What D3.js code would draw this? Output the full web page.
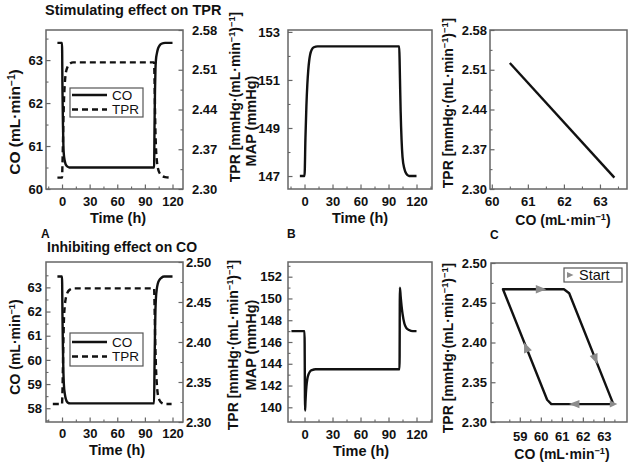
<!DOCTYPE html>
<html><head><meta charset="utf-8">
<script src="https://cdn.jsdelivr.net/npm/d3@7"></script>
<style>
body{margin:0;background:#fff;}
svg{display:block;}
</style></head><body><svg id="c" width="629" height="464"></svg>
<script>
// ---------- DATA ----------
// A: Stimulating effect on TPR
const stimTimeCO = [-5, 0, 0.5, 1, 1.5, 2, 3, 4, 6, 8, 12, 100, 100.5, 101, 101.5, 102, 103, 104, 106, 108, 112, 120];
const stimCO     = [63.4, 63.4, 62.3, 61.5, 61.0, 60.8, 60.65, 60.57, 60.52, 60.5, 60.5, 60.5, 61.5, 62.3, 62.8, 63.0, 63.15, 63.25, 63.34, 63.38, 63.4, 63.4];
const stimTimeTPR = [-5, 0, 0.5, 1, 1.5, 2, 3, 4, 6, 8, 12, 100, 100.5, 101, 101.5, 102, 103, 104, 106, 108, 112, 118];
const stimTPR     = [2.32, 2.32, 2.345, 2.38, 2.42, 2.45, 2.485, 2.503, 2.515, 2.52, 2.523, 2.523, 2.49, 2.44, 2.40, 2.375, 2.35, 2.338, 2.328, 2.324, 2.321, 2.32];
const stimTimeMAP = [-5, 0, 1, 2, 3, 4, 5, 6, 8, 10, 14, 101.5, 102, 102.5, 103, 104, 105, 107, 109, 112, 120];
const stimMAP     = [147, 147, 148.6, 149.9, 150.8, 151.4, 151.8, 152.05, 152.28, 152.36, 152.4, 152.4, 151.6, 150.6, 149.7, 148.5, 147.8, 147.3, 147.1, 147.0, 147.0];
const stimPhaseCO  = [60.5, 63.4];
const stimPhaseTPR = [2.522, 2.32];

// B: Inhibiting effect on CO
const inhTimeCO = [-5, 0, 0.5, 1, 1.5, 2, 3, 4, 6, 9, 100, 100.5, 101, 101.5, 102, 103, 104, 106, 108, 111, 120];
const inhCO     = [63.45, 63.45, 61.8, 60.4, 59.5, 59.0, 58.6, 58.4, 58.24, 58.2, 58.2, 59.8, 61.2, 62.1, 62.55, 62.95, 63.15, 63.32, 63.4, 63.45, 63.45];
const inhTimeTPR = [-10, 0, 0.5, 1, 1.5, 2, 3, 4, 5, 6, 8, 12, 100, 100.5, 101, 101.5, 102, 103, 104, 106, 108, 112, 119];
const inhTPR     = [2.3225, 2.3225, 2.34, 2.37, 2.40, 2.425, 2.445, 2.454, 2.459, 2.462, 2.465, 2.467, 2.467, 2.445, 2.415, 2.39, 2.37, 2.347, 2.335, 2.327, 2.324, 2.3225, 2.3225];
const inhTimeMAP = [-14, 0, 0.6, 1, 1.5, 2, 3, 4, 6, 8, 12, 101.8, 102.2, 103, 104, 105, 107, 109, 112, 116, 120];
const inhMAP     = [147, 147, 139.7, 140.5, 141.3, 141.9, 142.6, 142.95, 143.3, 143.42, 143.5, 143.5, 151.0, 150.2, 149.3, 148.6, 147.7, 147.3, 147.1, 147.0, 147.0];
const inhPhaseCO  = [63.45, 60.5, 60.3, 58.2, 61.1, 61.35, 63.45];
const inhPhaseTPR = [2.3225, 2.3225, 2.328, 2.467, 2.467, 2.462, 2.3225];
const arrowCO  = [61.6, 59.3, 60.0, 62.6];
const arrowTPR = [2.3225, 2.394, 2.467, 2.379];
const startCO  = [63.45];
const startTPR = [2.3225];

// ticks / labels
const timeTicks = [0, 30, 60, 90, 120];
const timeMinor = [-15, 15, 45, 75, 105, 135];
const coTicksA  = [60, 61, 62, 63];
const tprTicksA = [2.30, 2.37, 2.44, 2.51, 2.58];
const mapTicksA = [147, 149, 151, 153];
const coTicksC  = [60, 61, 62, 63];
const coTicksD  = [58, 59, 60, 61, 62, 63];
const tprTicksD = [2.30, 2.35, 2.40, 2.45, 2.50];
const mapTicksE = [140, 142, 144, 146, 148, 150, 152];
const coTicksF  = [59, 60, 61, 62, 63];
const titles = ["Stimulating effect on TPR", "Inhibiting effect on CO"];
const panelLetters = ["A", "B", "C"];
const legendNames = ["CO", "TPR"];
const startName = "Start";

// ---------- DRAW ----------
const FONT = '"Liberation Sans", Arial, Helvetica, sans-serif';
const svg = d3.select("#c").attr("font-family", FONT);
const FRAME = "#666";

function frame(p) {
  svg.append("rect").attr("x", p.x0).attr("y", p.y0)
    .attr("width", p.x1 - p.x0).attr("height", p.y1 - p.y0)
    .attr("fill", "none").attr("stroke", FRAME).attr("stroke-width", 1.5);
}
function halfSteps(ticks, domain) {
  const step = ticks[1] - ticks[0];
  const out = [];
  for (let i = -1; i < ticks.length; i++) {
    const v = ticks[0] + (i + 0.5) * step;
    if (v >= Math.min(...domain) && v <= Math.max(...domain)) out.push(v);
  }
  return out;
}
function drawAxis(kind, scale, pos, majors, minors, fmt, pad) {
  const mk = {left: d3.axisLeft, right: d3.axisRight, bottom: d3.axisBottom}[kind];
  const tr = kind === "bottom" ? `translate(0,${pos})` : `translate(${pos},0)`;
  const gm = svg.append("g").attr("transform", tr)
    .call(mk(scale).tickValues(minors).tickFormat("").tickSizeInner(-2.5).tickSizeOuter(0));
  gm.select(".domain").remove();
  gm.selectAll("line").attr("stroke", FRAME).attr("stroke-width", 1.1);
  const g = svg.append("g").attr("transform", tr)
    .call(mk(scale).tickValues(majors).tickFormat(fmt).tickSizeInner(-4.5).tickSizeOuter(0).tickPadding(pad));
  g.select(".domain").remove();
  g.selectAll("line").attr("stroke", FRAME).attr("stroke-width", 1.2);
  g.attr("font-family", FONT).attr("font-size", 13).attr("font-weight", "bold");
  g.selectAll("text").attr("fill", "#111");
}
function label(x, y, parts, size, rotate) {
  const t = svg.append("text")
    .attr("transform", `translate(${x},${y})` + (rotate ? " rotate(-90)" : ""))
    .attr("text-anchor", "middle").attr("font-weight", "bold")
    .attr("font-size", size).attr("fill", "#111");
  let prevSup = false;
  parts.forEach(([s, sup]) => {
    const dy = sup && !prevSup ? -0.34 * size : (!sup && prevSup ? 0.34 * size : 0);
    t.append("tspan").attr("dy", dy).attr("font-size", sup ? size * 0.66 : size).text(s);
    prevSup = sup;
  });
}
const coLab  = [["CO (mL·min", false], ["−1", true], [")", false]];
const tprLab = [["TPR [mmHg·(mL·min", false], ["−1", true], [")", false], ["−1", true], ["]", false]];
const mapLab = [["MAP (mmHg)", false]];
const timeLab = [["Time (h)", false]];

function series(xs, ys, xScale, yScale, dashed) {
  const pts = xs.map((x, i) => [x, ys[i]]);
  svg.append("path").datum(pts)
    .attr("d", d3.line().x(d => xScale(d[0])).y(d => yScale(d[1])).curve(d3.curveMonotoneX))
    .attr("fill", "none").attr("stroke", "#111").attr("stroke-width", 2.4)
    .attr("stroke-dasharray", dashed ? "6,4" : null);
}
function legend(x, y, w, h, rows) {
  svg.append("rect").attr("x", x).attr("y", y).attr("width", w).attr("height", h)
    .attr("fill", "#fff").attr("stroke", "#555").attr("stroke-width", 1.2);
  legendNames.forEach((n, i) => {
    const ly = y + rows[i];
    svg.append("line").attr("x1", x + 2).attr("x2", x + 37).attr("y1", ly).attr("y2", ly)
      .attr("stroke", "#111").attr("stroke-width", 2.4).attr("stroke-dasharray", i ? "6,4" : null);
    svg.append("text").attr("x", x + 42).attr("y", ly).attr("dy", "0.36em")
      .attr("font-size", 13.5).attr("fill", "#111").text(n);
  });
}

// Panel geometry
const P1 = {x0: 46, x1: 183, y0: 30, y1: 189};
const P2 = {x0: 288, x1: 432, y0: 30, y1: 189};
const P3 = {x0: 490, x1: 627, y0: 30, y1: 189};
const P4 = {x0: 46, x1: 183, y0: 262, y1: 422};
const P5 = {x0: 288, x1: 432, y0: 262, y1: 422};
const P6 = {x0: 491, x1: 627, y0: 263, y1: 422};

// ---- Panel A (top-left)
{
  const x = d3.scaleLinear().domain([-17.4, 131.4]).range([P1.x0, P1.x1]);
  const yL = d3.scaleLinear().domain([60, 63.7]).range([P1.y1, P1.y0]);
  const yR = d3.scaleLinear().domain([2.30, 2.58]).range([P1.y1, P1.y0]);
  drawAxis("left", yL, P1.x0, coTicksA, halfSteps(coTicksA, yL.domain()), d3.format("d"), 3);
  drawAxis("right", yR, P1.x1, tprTicksA, halfSteps(tprTicksA, yR.domain()), d3.format(".2f"), 9);
  drawAxis("bottom", x, P1.y1, timeTicks, timeMinor.filter(v => v >= x.domain()[0] && v <= x.domain()[1]), d3.format("d"), 8);
  series(stimTimeCO, stimCO, x, yL, false);
  series(stimTimeTPR, stimTPR, x, yR, true);
  frame(P1);
  legend(70, 88, 73, 29, [7, 21.5]);
  label(20, 122, coLab, 15.5, true);
  label(240, 97, tprLab, 14, true);
  label(118, 223, timeLab, 14.5, false);
}
// ---- Panel B (top-middle)
{
  const x = d3.scaleLinear().domain([-17.7, 136.6]).range([P2.x0, P2.x1]);
  const y = d3.scaleLinear().domain([146.46, 153.08]).range([P2.y1, P2.y0]);
  drawAxis("left", y, P2.x0, mapTicksA, [148, 150, 152], d3.format("d"), 8);
  drawAxis("bottom", x, P2.y1, timeTicks, timeMinor.filter(v => v >= x.domain()[0] && v <= x.domain()[1]), d3.format("d"), 8);
  series(stimTimeMAP, stimMAP, x, y, false);
  frame(P2);
  label(256, 121, mapLab, 14.5, true);
  label(360, 223, timeLab, 14.5, false);
}
// ---- Panel C (top-right)
{
  const x = d3.scaleLinear().domain([59.95, 63.75]).range([P3.x0, P3.x1]);
  const y = d3.scaleLinear().domain([2.30, 2.58]).range([P3.y1, P3.y0]);
  drawAxis("left", y, P3.x0, tprTicksA, halfSteps(tprTicksA, y.domain()), d3.format(".2f"), 3);
  drawAxis("bottom", x, P3.y1, coTicksC, halfSteps(coTicksC, x.domain()), d3.format("d"), 8);
  const pts = stimPhaseCO.map((c, i) => [c, stimPhaseTPR[i]]);
  svg.append("path").datum(pts)
    .attr("d", d3.line().x(d => x(d[0])).y(d => y(d[1])))
    .attr("fill", "none").attr("stroke", "#111").attr("stroke-width", 2.4);
  frame(P3);
  label(453, 103, tprLab, 14, true);
  label(563, 225, coLab, 14, false);
}
// ---- Panel D (bottom-left)
{
  const x = d3.scaleLinear().domain([-17.4, 131.4]).range([P4.x0, P4.x1]);
  const yL = d3.scaleLinear().domain([57.43, 64.05]).range([P4.y1, P4.y0]);
  const yR = d3.scaleLinear().domain([2.30, 2.50]).range([P4.y1, P4.y0]);
  drawAxis("left", yL, P4.x0, coTicksD, halfSteps(coTicksD, yL.domain()), d3.format("d"), 4);
  drawAxis("right", yR, P4.x1, tprTicksD, halfSteps(tprTicksD, yR.domain()), d3.format(".2f"), 3);
  drawAxis("bottom", x, P4.y1, timeTicks, timeMinor.filter(v => v >= x.domain()[0] && v <= x.domain()[1]), d3.format("d"), 7);
  series(inhTimeCO, inhCO, x, yL, false);
  series(inhTimeTPR, inhTPR, x, yR, true);
  frame(P4);
  legend(70, 333, 73, 33, [9, 23.5]);
  label(20, 347, coLab, 14, true);
  label(238, 345, tprLab, 14, true);
  label(117, 455, timeLab, 14.5, false);
}
// ---- Panel E (bottom-middle)
{
  const x = d3.scaleLinear().domain([-17.7, 136.6]).range([P5.x0, P5.x1]);
  const y = d3.scaleLinear().domain([138.65, 153.35]).range([P5.y1, P5.y0]);
  drawAxis("left", y, P5.x0, mapTicksE, [141, 143, 145, 147, 149, 151, 153], d3.format("d"), 6);
  drawAxis("bottom", x, P5.y1, timeTicks, timeMinor.filter(v => v >= x.domain()[0] && v <= x.domain()[1]), d3.format("d"), 8);
  series(inhTimeMAP, inhMAP, x, y, false);
  frame(P5);
  label(256, 345, mapLab, 14.5, true);
  label(361, 456, timeLab, 14.5, false);
}
// ---- Panel F (bottom-right)
{
  const x = d3.scaleLinear().domain([57.63, 64.1]).range([P6.x0, P6.x1]);
  const y = d3.scaleLinear().domain([2.30, 2.50]).range([P6.y1, P6.y0]);
  drawAxis("left", y, P6.x0, tprTicksD, halfSteps(tprTicksD, y.domain()), d3.format(".2f"), 4);
  drawAxis("bottom", x, P6.y1, coTicksF, halfSteps(coTicksF, x.domain()), d3.format("d"), 10);
  const pts = inhPhaseCO.map((c, i) => [c, inhPhaseTPR[i]]);
  svg.append("path").datum(pts)
    .attr("d", d3.line().x(d => x(d[0])).y(d => y(d[1])))
    .attr("fill", "none").attr("stroke", "#111").attr("stroke-width", 2.4).attr("stroke-linejoin", "round");
  // direction arrows, oriented along nearest trajectory segment
  const px = pts.map(d => [x(d[0]), y(d[1])]);
  arrowCO.forEach((c, i) => {
    const ax = x(c), ay = y(arrowTPR[i]);
    let best = 0, bd = Infinity;
    for (let k = 0; k < px.length - 1; k++) {
      const [x1, y1] = px[k], [x2, y2] = px[k + 1];
      const dx = x2 - x1, dy = y2 - y1, L2 = dx * dx + dy * dy;
      let t = ((ax - x1) * dx + (ay - y1) * dy) / L2; t = Math.max(0, Math.min(1, t));
      const d = Math.hypot(ax - (x1 + t * dx), ay - (y1 + t * dy));
      if (d < bd) { bd = d; best = Math.atan2(dy, dx) * 180 / Math.PI; }
    }
    svg.append("path").attr("d", "M5.5,0 L-5,-4.2 L-5,4.2 Z")
      .attr("transform", `translate(${ax},${ay}) rotate(${best})`)
      .attr("fill", "#8c8c8c");
  });
  startCO.forEach((c, i) => {
    svg.append("path").attr("d", "M4,0 L-3.5,-3.5 L-3.5,3.5 Z")
      .attr("transform", `translate(${x(c)},${y(startTPR[i])})`).attr("fill", "#8c8c8c");
  });
  frame(P6);
  // Start legend
  svg.append("rect").attr("x", 564).attr("y", 268).attr("width", 58).attr("height", 14)
    .attr("fill", "#fff").attr("stroke", "#555").attr("stroke-width", 1.2);
  svg.append("path").attr("d", "M3.5,0 L-3,-3 L-3,3 Z").attr("transform", "translate(570,275)").attr("fill", "#8c8c8c");
  svg.append("text").attr("x", 579).attr("y", 275).attr("dy", "0.36em").attr("font-size", 14.5).attr("fill", "#111").text(startName);
  label(453, 348, tprLab, 14, true);
  label(562, 459, coLab, 14, false);
}
// Titles and panel letters
svg.append("text").attr("x", 45).attr("y", 15).attr("font-size", 14.5).attr("font-weight", "bold").attr("fill", "#111").text(titles[0]);
svg.append("text").attr("x", 47).attr("y", 251.5).attr("font-size", 14).attr("font-weight", "bold").attr("fill", "#111").text(titles[1]);
[[41, 238], [287, 238], [490, 239]].forEach((p, i) => {
  svg.append("text").attr("x", p[0]).attr("y", p[1]).attr("font-size", 12).attr("font-weight", "bold").attr("fill", "#111").text(panelLetters[i]);
});
</script></body></html>
